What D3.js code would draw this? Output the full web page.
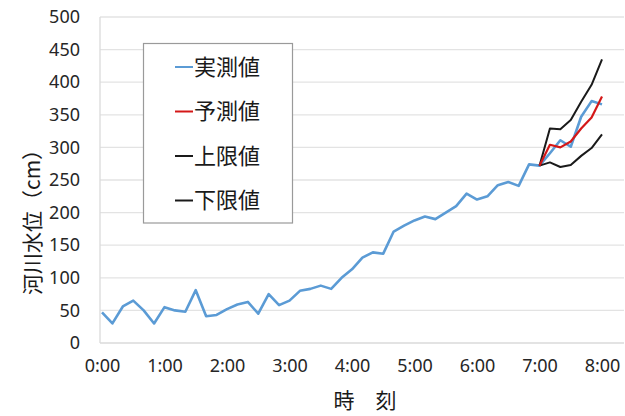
<!DOCTYPE html>
<html>
<head>
<meta charset="utf-8">
<script src="https://cdn.jsdelivr.net/npm/d3@7"></script>
<style>
  html, body { margin: 0; padding: 0; background: #fff; }
  svg { display: block; }
  text { font-family: "Noto Sans CJK JP", "Noto Sans", sans-serif; }
</style>
</head>
<body>
<svg id="chart" width="625" height="416"></svg>
<script>
// River level readings every 10 minutes from 0:00 to 8:00 (cm)
const minutes = d3.range(0, 481, 10);
const observed = [47, 30, 56, 65, 50, 30, 55, 50, 48, 81,
                  41, 43, 52, 59, 63, 45, 75, 58, 65, 80,
                  83, 88, 83, 100, 113, 131, 139, 137, 171, 180,
                  188, 194, 190, 200, 210, 229, 220, 225, 242, 247,
                  241, 274, 272, 291, 311, 301, 347, 371, 366];

// Forecast from 7:00 onward with its upper / lower bounds
const forecastMinutes = [420, 430, 440, 450, 460, 470, 480];
const predicted = [272, 304, 300, 309, 329, 346, 378];
const upperBound = [272, 329, 328, 342, 370, 396, 435];
const lowerBound = [272, 277, 270, 273, 287, 299, 320];

const yTicks = [0, 50, 100, 150, 200, 250, 300, 350, 400, 450, 500];
const xTicks = [0, 60, 120, 180, 240, 300, 360, 420, 480];

const legendNames = ["実測値", "予測値", "上限値", "下限値"];
const legendColors = ["#5b9bd5", "#d41818", "#1a1a1a", "#1a1a1a"];

const svg = d3.select("#chart");
const plot = { left: 100, right: 624, top: 17, bottom: 343 };

const x = d3.scaleLinear().domain([0, 480]).range([102, 602]);
const y = d3.scaleLinear().domain([0, 500]).range([plot.bottom, plot.top]);

// horizontal gridlines
svg.append("g")
  .selectAll("line")
  .data(yTicks.filter(v => v > 0))
  .join("line")
  .attr("x1", plot.left).attr("x2", plot.right)
  .attr("y1", d => y(d)).attr("y2", d => y(d))
  .attr("stroke", "#e3e3e3").attr("stroke-width", 1.3);

// plot frame (left and bottom axis lines)
svg.append("line")
  .attr("x1", plot.left).attr("x2", plot.left)
  .attr("y1", plot.top).attr("y2", plot.bottom)
  .attr("stroke", "#dadada").attr("stroke-width", 1.3);
svg.append("line")
  .attr("x1", plot.left).attr("x2", plot.right)
  .attr("y1", plot.bottom).attr("y2", plot.bottom)
  .attr("stroke", "#dadada").attr("stroke-width", 1.5);

// y axis tick labels
const yAxis = d3.axisLeft(y).tickValues(yTicks).tickSize(0).tickPadding(20);
const gy = svg.append("g").attr("transform", `translate(${plot.left},0)`).call(yAxis);
gy.select(".domain").remove();
gy.selectAll("text")
  .attr("font-size", 18).attr("fill", "#262626")
  .style("font-family", "'Noto Sans', sans-serif");

// x axis tick labels
const xAxis = d3.axisBottom(x).tickValues(xTicks).tickSize(0).tickPadding(16)
  .tickFormat(d => `${d / 60}:00`);
const gx = svg.append("g").attr("transform", `translate(0,${plot.bottom})`).call(xAxis);
gx.select(".domain").remove();
gx.selectAll("text")
  .attr("font-size", 18).attr("fill", "#262626")
  .style("font-family", "'Noto Sans', sans-serif");

// axis titles
svg.append("text")
  .attr("transform", "translate(40,217) rotate(-90)")
  .attr("text-anchor", "middle")
  .attr("font-size", 21).attr("fill", "#1a1a1a")
  .text("河川水位（cm）");
svg.append("text")
  .attr("x", 365).attr("y", 408)
  .attr("text-anchor", "middle")
  .attr("font-size", 21).attr("fill", "#1a1a1a")
  .text("時　刻");

const line = d3.line().x(d => x(d[0])).y(d => y(d[1]));

function drawSeries(xs, ys, color, width) {
  svg.append("path")
    .datum(xs.map((m, i) => [m, ys[i]]))
    .attr("d", line)
    .attr("fill", "none")
    .attr("stroke", color)
    .attr("stroke-width", width)
    .attr("stroke-linejoin", "round");
}

drawSeries(minutes, observed, legendColors[0], 2.6);
drawSeries(forecastMinutes, upperBound, legendColors[2], 2);
drawSeries(forecastMinutes, lowerBound, legendColors[3], 2);
drawSeries(forecastMinutes, predicted, legendColors[1], 2.2);

// legend
const legend = svg.append("g");
legend.append("rect")
  .attr("x", 143.5).attr("y", 43.5).attr("width", 149).attr("height", 179.5)
  .attr("fill", "#fff").attr("stroke", "#9a9a9a").attr("stroke-width", 1.2);
const rows = legend.selectAll("g.row")
  .data(legendNames)
  .join("g")
  .attr("transform", (d, i) => `translate(0,${67 + i * 44.5})`);
rows.append("line")
  .attr("x1", 175).attr("x2", 193)
  .attr("y1", 0).attr("y2", 0)
  .attr("stroke", (d, i) => legendColors[i]).attr("stroke-width", 2);
rows.append("text")
  .attr("x", 194).attr("y", 0).attr("dy", "0.36em")
  .attr("font-size", 22).attr("fill", "#1a1a1a")
  .text(d => d);
</script>
</body>
</html>
